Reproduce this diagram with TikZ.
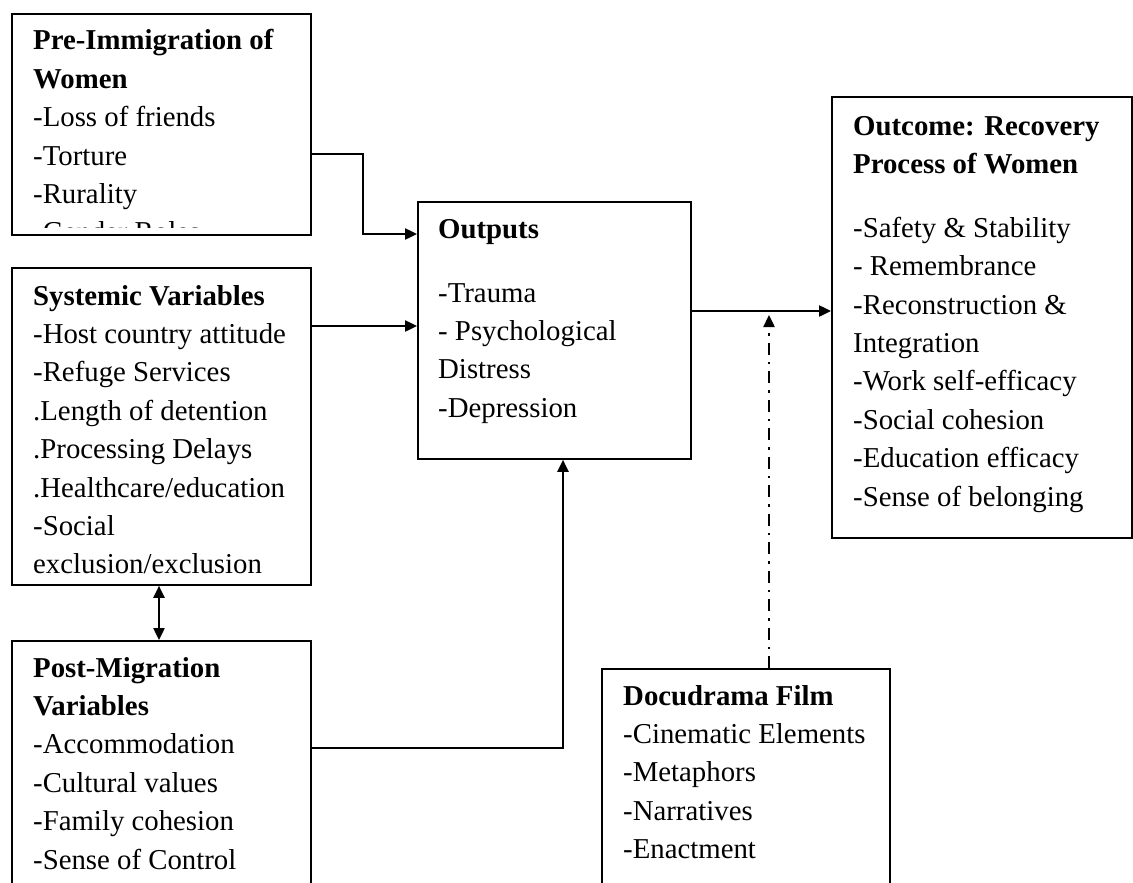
\documentclass[tikz,border=0pt]{standalone}
\usepackage{fontspec}
\setmainfont{Liberation Serif}
\usetikzlibrary{arrows.meta,calc}
\newcommand{\txtsize}{\fontsize{28.8pt}{38.4pt}\selectfont}
\newcommand{\bxlines}[1]{\begin{tabular}[t]{@{}l@{}}#1\end{tabular}}
\begin{document}
\begin{tikzpicture}[x=1pt,y=-1pt,
  box/.style={draw, line width=1.8pt, rectangle, anchor=north west, inner sep=0pt},
  txt/.style={anchor=base west, inner sep=0pt, font=\txtsize},
  tipst/.style={-{Triangle[length=12pt,width=11pt]}},
  conn/.style={line width=2.4pt, tipst},
  dconn/.style={line width=2.4pt, {Triangle[length=12pt,width=11pt]}-{Triangle[length=12pt,width=11pt]}},
  dashdotconn/.style={line width=2.4pt, dash pattern=on 12pt off 7pt on 2.5pt off 7pt, tipst}]
\useasboundingbox (0,0) rectangle (1133,883);
\clip (0,0) rectangle (1133,883);

% boxes
\node[box, minimum width=299pt, minimum height=221pt] (pre) at (11,13) {};
\node[box, minimum width=299pt, minimum height=317pt] (sys) at (11,267) {};
\node[box, minimum width=299pt, minimum height=270pt] (post) at (11,640) {};
\node[box, minimum width=273pt, minimum height=257pt] (out) at (417,201) {};
\node[box, minimum width=300pt, minimum height=441pt] (outc) at (831,96) {};
\node[box, minimum width=288pt, minimum height=240pt] (doc) at (601,668) {};

% texts
\begin{scope}
\clip (pre.north west) rectangle ($(pre.south east)+(0,-8)$);
\node[txt] (pretxt) at (33,50) {\bxlines{\textbf{Pre-Immigration of}\\\textbf{Women}\\-Loss of friends\\-Torture\\-Rurality\\-Gender Roles}};
\end{scope}
\node[txt] (systxt) at (33,305) {\bxlines{\textbf{Systemic Variables}\\-Host country attitude\\-Refuge Services\\.Length of detention\\.Processing Delays\\.Healthcare/education\\-Social\\exclusion/exclusion}};
\node[txt] (posttxt) at (33,677) {\bxlines{\textbf{Post-Migration}\\\textbf{Variables}\\-Accommodation\\-Cultural values\\-Family cohesion\\-Sense of Control}};
\node[txt] (outtxt) at (438,238) {\bxlines{\textbf{Outputs}\\[25.6pt]-Trauma\\- Psychological\\Distress\\-Depression}};
\node[txt] (outctxt) at (853,135) {\bxlines{\textbf{Outcome: Recovery}\\\textbf{Process of Women}\\[25.6pt]-Safety \& Stability\\- Remembrance\\-Reconstruction \&\\Integration\\-Work self-efficacy\\-Social cohesion\\-Education efficacy\\-Sense of belonging}};
\node[txt] (doctxt) at (623,705) {\bxlines{\textbf{Docudrama Film}\\-Cinematic Elements\\-Metaphors\\-Narratives\\-Enactment}};

% connectors
\coordinate (b1) at (363,154);
\draw[conn] (pre.east |- b1) -- (b1) |- (out.west |- 0,234);
\draw[conn] (sys.east |- 0,326) -- (out.west |- 0,326);
\draw[conn] (post.east |- 0,748) -| (out.south -| 563,0);
\draw[conn] (out.east |- 0,311) -- (outc.west |- 0,311);
\coordinate (dtip) at (769,315);
\draw[dashdotconn] (doc.north -| dtip) -- (dtip);
\draw[dconn] (sys.south -| 159,0) -- (post.north -| 159,0);
\end{tikzpicture}
\end{document}
